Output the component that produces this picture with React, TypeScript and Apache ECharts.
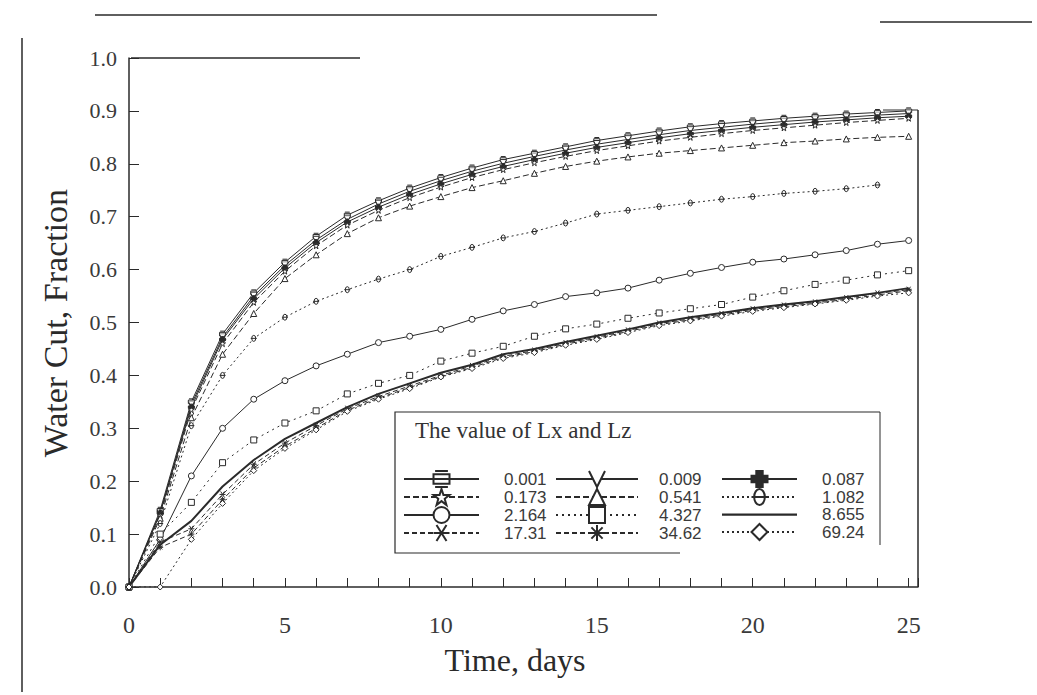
import React, { useEffect, useRef } from "react";
import * as echarts from "echarts";

const days = [0, 1, 2, 3, 4, 5, 6, 7, 8, 9, 10, 11, 12, 13, 14, 15, 16, 17, 18, 19, 20, 21, 22, 23, 24, 25];

const s0001 = [0, 0.145, 0.35, 0.478, 0.556, 0.614, 0.663, 0.703, 0.73, 0.754, 0.774, 0.792, 0.808, 0.82, 0.832, 0.844, 0.853, 0.862, 0.87, 0.876, 0.881, 0.886, 0.89, 0.894, 0.897, 0.9];
const s0009 = [0, 0.14, 0.345, 0.472, 0.55, 0.608, 0.656, 0.695, 0.724, 0.748, 0.768, 0.786, 0.801, 0.814, 0.826, 0.837, 0.846, 0.855, 0.863, 0.869, 0.875, 0.88, 0.884, 0.888, 0.892, 0.895];
const s0087 = [0, 0.14, 0.34, 0.468, 0.545, 0.603, 0.651, 0.69, 0.718, 0.742, 0.762, 0.78, 0.795, 0.808, 0.82, 0.831, 0.84, 0.849, 0.857, 0.863, 0.869, 0.874, 0.879, 0.883, 0.887, 0.89];
const s0173 = [0, 0.135, 0.335, 0.46, 0.538, 0.597, 0.645, 0.684, 0.712, 0.736, 0.756, 0.774, 0.789, 0.802, 0.814, 0.825, 0.834, 0.843, 0.85, 0.857, 0.863, 0.868, 0.873, 0.878, 0.882, 0.886];
const s0541 = [0, 0.13, 0.32, 0.44, 0.517, 0.583, 0.628, 0.668, 0.698, 0.72, 0.738, 0.755, 0.768, 0.782, 0.795, 0.805, 0.813, 0.82, 0.825, 0.83, 0.835, 0.84, 0.843, 0.847, 0.85, 0.852];
const s1082 = [0, 0.12, 0.305, 0.4, 0.47, 0.51, 0.54, 0.562, 0.582, 0.6, 0.625, 0.642, 0.66, 0.672, 0.688, 0.705, 0.712, 0.719, 0.726, 0.733, 0.738, 0.744, 0.748, 0.753, 0.76, null];
const s2164 = [0, 0.09, 0.21, 0.3, 0.355, 0.39, 0.418, 0.44, 0.462, 0.474, 0.487, 0.506, 0.522, 0.534, 0.549, 0.556, 0.565, 0.58, 0.593, 0.604, 0.614, 0.62, 0.628, 0.636, 0.648, 0.655];
const s4327 = [0, 0.1, 0.16, 0.235, 0.278, 0.31, 0.333, 0.365, 0.385, 0.4, 0.427, 0.442, 0.455, 0.474, 0.488, 0.497, 0.508, 0.518, 0.526, 0.534, 0.548, 0.56, 0.572, 0.58, 0.59, 0.598];
const s8655 = [0, 0.08, 0.125, 0.19, 0.24, 0.28, 0.31, 0.34, 0.365, 0.385, 0.405, 0.42, 0.44, 0.45, 0.463, 0.475, 0.487, 0.5, 0.51, 0.518, 0.527, 0.534, 0.54, 0.548, 0.556, 0.565];
const s1731 = [0, 0.085, 0.11, 0.175, 0.232, 0.272, 0.305, 0.337, 0.36, 0.38, 0.4, 0.418, 0.436, 0.447, 0.461, 0.472, 0.485, 0.498, 0.507, 0.516, 0.525, 0.532, 0.538, 0.546, 0.555, 0.562];
const s3462 = [0, 0.075, 0.1, 0.165, 0.225, 0.266, 0.3, 0.334, 0.357, 0.377, 0.398, 0.415, 0.434, 0.445, 0.459, 0.47, 0.483, 0.496, 0.505, 0.514, 0.523, 0.53, 0.536, 0.544, 0.552, 0.56];
const s6924 = [0, 0, 0.09, 0.158, 0.22, 0.262, 0.297, 0.332, 0.355, 0.375, 0.397, 0.413, 0.432, 0.443, 0.457, 0.468, 0.481, 0.494, 0.503, 0.512, 0.521, 0.528, 0.535, 0.542, 0.55, 0.556];

const seriesNames = ["0.001", "0.009", "0.087", "0.173", "0.541", "1.082", "2.164", "4.327", "8.655", "17.31", "34.62", "69.24"];
const seriesValues = [s0001, s0009, s0087, s0173, s0541, s1082, s2164, s4327, s8655, s1731, s3462, s6924];

const xTickLabels = ["0", "5", "10", "15", "20", "25"];

const INK = "#2a2a2a";

const symbols = [
  "path://M1,0H9M1,10H9M0,2H10V8H0ZM0,5H10",
  "path://M0,0L5,9L10,0",
  "path://M3,0H7V3H10V7H7V10H3V7H0V3H3Z",
  "path://M5,0L6.2,3.5H10L7,5.8L8.1,9.5L5,7.2L1.9,9.5L3,5.8L0,3.5H3.8Z",
  "path://M5,0L10,9H0Z",
  "path://M1,5A4,4 0 1,1 9,5A4,4 0 1,1 1,5ZM-1,5H11",
  "path://M0,5A5,4 0 1,1 10,5A5,4 0 1,1 0,5Z",
  "path://M0,0H10V10H0Z",
  "none",
  "path://M0,0L10,10M10,0L0,10M-3,5H13",
  "path://M5,0V10M0,5H10M1.5,1.5L8.5,8.5M8.5,1.5L1.5,8.5",
  "path://M5,0L10,5L5,10L0,5Z",
];
const filled = [false, false, true, false, false, false, false, false, false, false, false, false];
const lineTypes: any[] = ["solid", "solid", "solid", [6, 3], [6, 3], [2, 3], "solid", [2, 4], "solid", [5, 3], [5, 3], [2, 3]];
const lineWidths = [1, 1, 1, 1, 1, 1, 1, 1, 2, 1, 1, 1];

export default function App() {
  const ref = useRef<HTMLDivElement>(null);
  useEffect(() => {
    document.body.style.margin = "0";
    const chart = echarts.init(ref.current!, null, { renderer: "svg" });
    const serif = "Liberation Serif";
    const series = seriesNames.map((name, i) => ({
      name,
      type: "line",
      data: days.map((d, j) => [d, seriesValues[i][j]]),
      symbol: symbols[i],
      symbolSize: 6,
      showSymbol: true,
      connectNulls: false,
      lineStyle: { color: INK, width: lineWidths[i], type: lineTypes[i] },
      itemStyle: {
        color: filled[i] ? INK : "#ffffff",
        borderColor: INK,
        borderWidth: 1,
      },
      emphasis: { disabled: true },
      z: 3,
    }));
    const legendText = { fontFamily: "Liberation Sans", fontSize: 17, color: "#3a3a3a" };
    const legendBase = {
      orient: "vertical",
      itemWidth: 75,
      itemHeight: 20,
      itemGap: 0,
      selectedMode: false,
    };
    chart.setOption({
      animation: false,
      backgroundColor: "#ffffff",
      grid: { left: 129, top: 58, width: 789, height: 529 },
      xAxis: {
        type: "value",
        min: 0,
        max: 25.3,
        interval: 1,
        axisLine: { lineStyle: { color: INK, width: 1.5 } },
        axisTick: { inside: true, length: 9, lineStyle: { color: INK } },
        splitLine: { show: false },
        axisLabel: {
          fontFamily: serif,
          fontSize: 24,
          color: "#3a3a3a",
          margin: 26,
          formatter: (v: number) => (xTickLabels.indexOf(String(v)) >= 0 ? String(v) : ""),
        },
      },
      yAxis: {
        type: "value",
        min: 0,
        max: 1,
        interval: 0.1,
        axisLine: { show: true, lineStyle: { color: INK, width: 1.5 } },
        axisTick: { show: true, inside: true, length: 10, lineStyle: { color: INK } },
        splitLine: { show: false },
        axisLabel: {
          fontFamily: serif,
          fontSize: 22,
          color: "#3a3a3a",
          margin: 12,
          formatter: (v: number) => v.toFixed(1),
        },
      },
      legend: [
        { ...legendBase, left: 398, top: 465, data: ["0.001", "0.173", "2.164", "17.31"], textStyle: { ...legendText, padding: [0, 0, 0, 20] } },
        { ...legendBase, left: 550, top: 465, data: ["0.009", "0.541", "4.327", "34.62"], itemWidth: 82, textStyle: { ...legendText, padding: [0, 0, 0, 16] } },
        {
          ...legendBase,
          left: 716,
          top: 465,
          data: ["0.087", "1.082", { name: "8.655", icon: "path://M0,0H100V3H0Z", itemStyle: { color: INK, borderWidth: 0 } }, "69.24"],
          textStyle: { ...legendText, padding: [0, 0, 0, 20] },
        },
      ],
      graphic: [
        { type: "text", left: 415, top: 419, style: { text: "The value of Lx and Lz", font: `23px "${serif}"`, fill: "#333" }, z: 10 },
        { type: "polyline", shape: { points: [[880, 412], [395, 412], [395, 553], [680, 553]] }, style: { stroke: INK, lineWidth: 1.2, fill: "none" }, z: 10 },
        { type: "line", shape: { x1: 880, y1: 412, x2: 880, y2: 545 }, style: { stroke: INK, lineWidth: 1 }, z: 10 },
        { type: "text", x: 515, y: 660, style: { text: "Time, days", font: `32px "${serif}"`, fill: "#2a2a2a", align: "center", verticalAlign: "middle" } },
        { type: "text", x: 55, y: 323, rotation: Math.PI / 2, style: { text: "Water Cut, Fraction", font: `34px "${serif}"`, fill: "#2a2a2a", align: "center", verticalAlign: "middle" } },
        { type: "line", shape: { x1: 131, y1: 58, x2: 360, y2: 58 }, style: { stroke: INK, lineWidth: 1.5 } },
        { type: "line", shape: { x1: 883, y1: 110, x2: 918, y2: 110 }, style: { stroke: INK, lineWidth: 1 } },
        { type: "line", shape: { x1: 918, y1: 110, x2: 918, y2: 587 }, style: { stroke: INK, lineWidth: 1.5 } },
        { type: "line", shape: { x1: 22, y1: 38, x2: 22, y2: 692 }, style: { stroke: INK, lineWidth: 1.5 } },
        { type: "line", shape: { x1: 95, y1: 15, x2: 657, y2: 15 }, style: { stroke: INK, lineWidth: 1.5 } },
        { type: "line", shape: { x1: 880, y1: 22, x2: 1032, y2: 22 }, style: { stroke: INK, lineWidth: 1.5 } },
      ],
      series,
    });
    return () => chart.dispose();
  }, []);
  return <div ref={ref} style={{ width: 1037, height: 695 }} />;
}
